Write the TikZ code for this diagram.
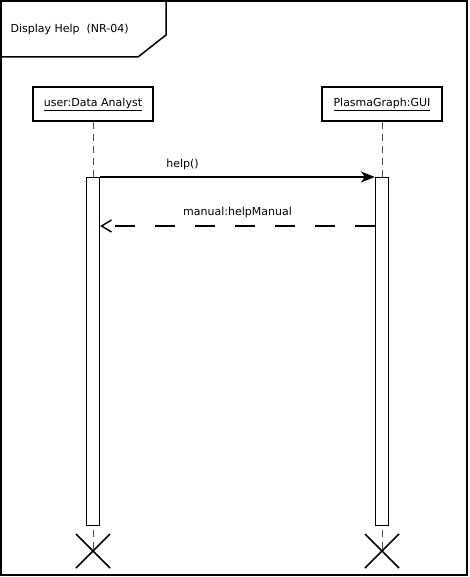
\documentclass[tikz,border=0pt]{standalone}
\usepackage{fontspec}
\setmainfont{DejaVu Sans}
\usetikzlibrary{calc,arrows.meta}
\begin{document}
\begin{tikzpicture}[x=1pt,y=-1pt,font=\fontsize{11}{13}\selectfont,
    lifebox/.style={draw,line width=1.4pt,minimum width=120pt,minimum height=34pt,inner sep=2pt},
    actbar/.style={draw,line width=1.3pt,fill=white,minimum width=13pt,minimum height=348pt,inner sep=0pt,anchor=north},
    lifeline/.style={line width=0.8pt,black!70,dash pattern=on 7pt off 5pt},
    killmark/.style={line width=1.5pt},
    callmsg/.style={line width=1.4pt,-{Stealth[length=14pt,width=11pt,inset=4pt]}},
    replymsg/.style={line width=1.4pt,dash pattern=on 20pt off 20pt,-{Straight Barb[length=10pt,width=12pt]}}]
  \useasboundingbox (0,0) rectangle (469,577);
  \draw[line width=1.5pt] (1,1) rectangle (467,575);
  \draw[line width=1.5pt] (1,57) -- (138,57) -- (166,35) -- (166,1);
  \node[anchor=west] (title) at (7,29) {Display Help\ \ (NR-04)};
  \node[lifebox] (user) at (93,104) {\underline{user:Data Analyst}};
  \node[lifebox] (gui) at (382,104) {\underline{PlasmaGraph:GUI}};
  \coordinate (userend) at (93,551);
  \coordinate (guiend) at (382,551);
  \draw[lifeline] (user.south) -- (userend);
  \draw[lifeline] (gui.south) -- (guiend);
  \node[actbar] (useract) at (93,177) {};
  \node[actbar] (guiact) at (382,177) {};
  \draw[callmsg] (useract.north east) -- (guiact.north west) node[pos=0.3,above=3pt] {help()};
  \draw[replymsg] ($(guiact.north west)+(0,49)$) -- ($(useract.north east)+(0,49)$) node[midway,above=4pt] {manual:helpManual};
  \draw[killmark] ($(userend)+(-17,-17)$) -- ($(userend)+(17,17)$);
  \draw[killmark] ($(userend)+(-17,17)$) -- ($(userend)+(17,-17)$);
  \draw[killmark] ($(guiend)+(-17,-17)$) -- ($(guiend)+(17,17)$);
  \draw[killmark] ($(guiend)+(-17,17)$) -- ($(guiend)+(17,-17)$);
\end{tikzpicture}
\end{document}
